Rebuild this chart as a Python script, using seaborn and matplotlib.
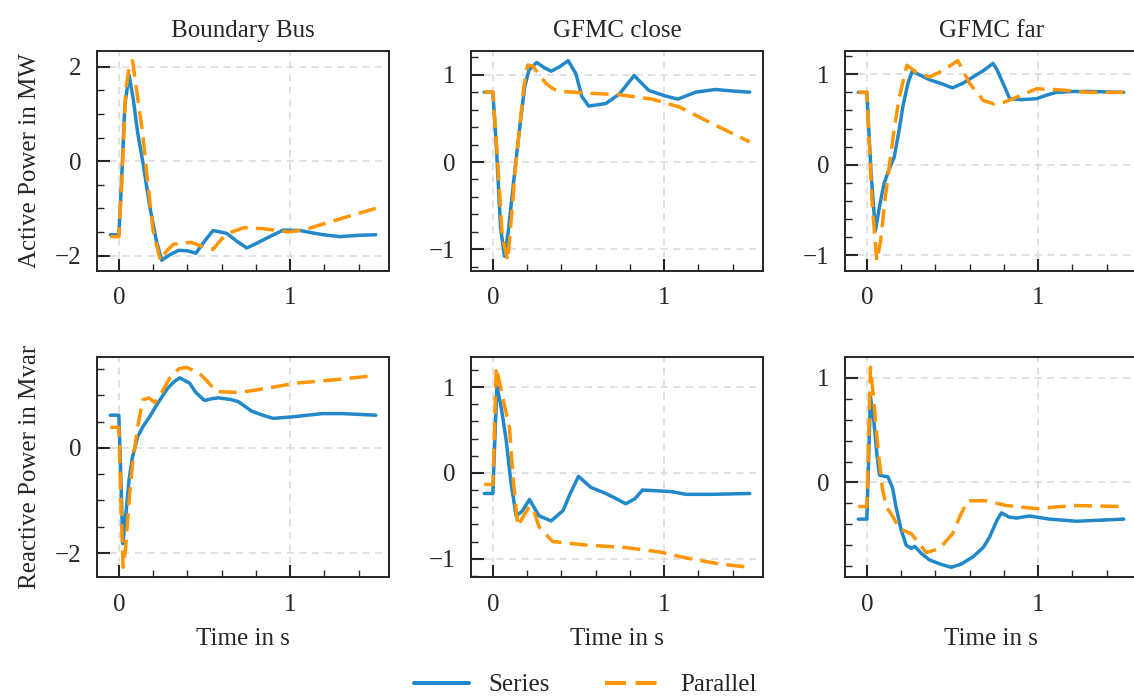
import matplotlib
matplotlib.use("Agg")
import matplotlib.pyplot as plt
from matplotlib.ticker import MultipleLocator, AutoMinorLocator
import pandas as pd
import seaborn as sns

# values (time in s)
columns = ["Boundary Bus", "GFMC close", "GFMC far"]
rows = ["Active Power in MW", "Reactive Power in Mvar"]
cases = ["Series", "Parallel"]

# --- active power ---
bb_p_ser_t = [-0.05, 0.0, 0.015, 0.035, 0.06, 0.085, 0.11, 0.142, 0.18, 0.22, 0.25, 0.3, 0.35, 0.4, 0.45,
              0.5, 0.55, 0.63, 0.69, 0.747, 0.8, 0.864, 0.96, 1.058, 1.13, 1.195, 1.29, 1.41, 1.5]
bb_p_ser_v = [-1.56, -1.56, -0.5, 1.2, 1.82, 1.3, 0.6, -0.06, -0.95, -1.7, -2.1, -1.98, -1.89, -1.9, -1.95,
              -1.7, -1.47, -1.53, -1.7, -1.84, -1.75, -1.63, -1.46, -1.47, -1.52, -1.56, -1.6, -1.57, -1.56]
bb_p_par_t = [-0.05, 0.0, 0.015, 0.04, 0.065, 0.08, 0.1, 0.137, 0.17, 0.2, 0.243, 0.28, 0.32, 0.42, 0.49,
              0.55, 0.6, 0.66, 0.73, 0.84, 0.99, 1.08, 1.195, 1.35, 1.5]
bb_p_par_v = [-1.6, -1.6, -0.6, 1.5, 2.1, 2.13, 1.6, 0.65, -0.5, -1.47, -2.11, -1.9, -1.76, -1.72, -1.81,
              -1.87, -1.65, -1.5, -1.41, -1.43, -1.5, -1.46, -1.33, -1.16, -1.0]

gc_p_ser_t = [-0.05, 0.0, 0.02, 0.045, 0.068, 0.09, 0.12, 0.155, 0.185, 0.21, 0.256, 0.3, 0.34, 0.39, 0.44,
              0.485, 0.52, 0.56, 0.66, 0.74, 0.825, 0.87, 0.91, 1.0, 1.08, 1.185, 1.3, 1.42, 1.5]
gc_p_ser_v = [0.8, 0.8, 0.2, -0.75, -1.08, -0.8, -0.25, 0.36, 0.85, 1.05, 1.14, 1.08, 1.04, 1.09, 1.16,
              1.01, 0.75, 0.64, 0.67, 0.78, 0.99, 0.9, 0.82, 0.76, 0.72, 0.8, 0.83, 0.81, 0.8]
gc_p_par_t = [-0.05, 0.0, 0.025, 0.055, 0.087, 0.11, 0.13, 0.155, 0.18, 0.204, 0.233, 0.27, 0.31, 0.35,
              0.39, 0.54, 0.74, 0.93, 1.09, 1.26, 1.5]
gc_p_par_v = [0.8, 0.8, 0.1, -0.85, -1.13, -0.6, -0.1, 0.36, 0.85, 1.11, 1.10, 1.0, 0.9, 0.84,
              0.81, 0.79, 0.77, 0.72, 0.63, 0.46, 0.23]

gf_p_ser_t = [-0.05, 0.0, 0.025, 0.05, 0.075, 0.1, 0.13, 0.16, 0.19, 0.21, 0.24, 0.265, 0.3, 0.366, 0.43,
              0.5, 0.56, 0.62, 0.68, 0.737, 0.76, 0.8, 0.834, 0.9, 0.99, 1.05, 1.107, 1.2, 1.3, 1.5]
gf_p_ser_v = [0.8, 0.8, -0.1, -0.73, -0.45, -0.21, -0.05, 0.085, 0.4, 0.64, 0.9, 1.035, 1.0, 0.94, 0.9,
              0.85, 0.9, 0.97, 1.04, 1.12, 1.05, 0.88, 0.73, 0.72, 0.73, 0.77, 0.8, 0.81, 0.81, 0.8]
gf_p_par_t = [-0.05, 0.0, 0.03, 0.058, 0.08, 0.105, 0.133, 0.16, 0.19, 0.234, 0.29, 0.366, 0.444, 0.53,
              0.56, 0.6, 0.68, 0.746, 0.8, 0.854, 0.99, 1.107, 1.3, 1.5]
gf_p_par_v = [0.8, 0.8, -0.4, -1.06, -0.85, -0.4, 0.01, 0.4, 0.75, 1.10, 1.02, 0.97, 1.04, 1.15,
              1.05, 0.9, 0.71, 0.67, 0.69, 0.73, 0.84, 0.83, 0.80, 0.8]

# --- reactive power ---
bb_q_ser_t = [-0.05, 0.0, 0.012, 0.023, 0.04, 0.06, 0.08, 0.11, 0.14, 0.18, 0.22, 0.28, 0.32, 0.355, 0.413,
              0.45, 0.5, 0.54, 0.58, 0.65, 0.696, 0.74, 0.774, 0.84, 0.9, 1.02, 1.1, 1.19, 1.31, 1.5]
bb_q_ser_v = [0.62, 0.62, -0.6, -1.82, -1.3, -0.6, -0.17, 0.21, 0.40, 0.59, 0.81, 1.11, 1.25, 1.33, 1.23,
              1.05, 0.9, 0.93, 0.95, 0.92, 0.88, 0.78, 0.70, 0.62, 0.56, 0.59, 0.62, 0.65, 0.65, 0.62]
bb_q_par_t = [-0.05, 0.0, 0.012, 0.025, 0.04, 0.06, 0.08, 0.11, 0.14, 0.175, 0.21, 0.25, 0.296, 0.35,
              0.394, 0.47, 0.52, 0.57, 0.706, 0.86, 1.037, 1.25, 1.485]
bb_q_par_v = [0.39, 0.39, -1.0, -2.27, -1.9, -1.0, -0.3, 0.4, 0.91, 0.95, 0.86, 1.05, 1.32, 1.5,
              1.53, 1.42, 1.25, 1.07, 1.05, 1.13, 1.23, 1.29, 1.37]

gc_q_ser_t = [-0.05, 0.0, 0.01, 0.024, 0.05, 0.078, 0.105, 0.136, 0.17, 0.214, 0.24, 0.27, 0.34, 0.41,
              0.45, 0.5, 0.573, 0.66, 0.72, 0.777, 0.83, 0.874, 0.97, 1.05, 1.126, 1.28, 1.5]
gc_q_ser_v = [-0.24, -0.24, 0.3, 1.01, 0.75, 0.38, -0.1, -0.5, -0.45, -0.31, -0.4, -0.5, -0.56, -0.44,
              -0.25, -0.04, -0.17, -0.24, -0.3, -0.36, -0.3, -0.2, -0.21, -0.22, -0.25, -0.25, -0.24]
gc_q_par_t = [-0.05, 0.0, 0.01, 0.02, 0.05, 0.097, 0.12, 0.146, 0.18, 0.214, 0.24, 0.27, 0.35, 0.54,
              0.777, 0.97, 1.126, 1.32, 1.5]
gc_q_par_v = [-0.135, -0.135, 0.5, 1.23, 0.95, 0.53, -0.1, -0.62, -0.5, -0.39, -0.45, -0.63, -0.80, -0.84,
              -0.87, -0.92, -0.99, -1.06, -1.10]

gf_q_ser_t = [-0.05, 0.0, 0.01, 0.021, 0.04, 0.06, 0.074, 0.1, 0.123, 0.15, 0.17, 0.2, 0.23, 0.26, 0.28,
              0.32, 0.366, 0.43, 0.493, 0.55, 0.62, 0.68, 0.717, 0.76, 0.786, 0.83, 0.873, 0.95, 1.068,
              1.224, 1.5]
gf_q_ser_v = [-0.35, -0.35, 0.2, 0.82, 0.6, 0.25, 0.07, 0.06, 0.054, -0.05, -0.23, -0.45, -0.60, -0.63, -0.61,
              -0.68, -0.74, -0.78, -0.81, -0.78, -0.71, -0.62, -0.52, -0.36, -0.29, -0.33, -0.34, -0.32, -0.35,
              -0.37, -0.35]
gf_q_par_t = [-0.05, 0.0, 0.01, 0.021, 0.04, 0.064, 0.09, 0.113, 0.15, 0.19, 0.26, 0.3, 0.347, 0.425,
              0.5, 0.55, 0.59, 0.698, 0.815, 0.99, 1.205, 1.5]
gf_q_par_v = [-0.23, -0.23, 0.4, 1.1, 0.8, 0.34, -0.05, -0.23, -0.32, -0.44, -0.49, -0.57, -0.67, -0.63,
              -0.49, -0.3, -0.175, -0.175, -0.22, -0.25, -0.22, -0.23]

panels = [
    [(bb_p_ser_t, bb_p_ser_v, bb_p_par_t, bb_p_par_v),
     (gc_p_ser_t, gc_p_ser_v, gc_p_par_t, gc_p_par_v),
     (gf_p_ser_t, gf_p_ser_v, gf_p_par_t, gf_p_par_v)],
    [(bb_q_ser_t, bb_q_ser_v, bb_q_par_t, bb_q_par_v),
     (gc_q_ser_t, gc_q_ser_v, gc_q_par_t, gc_q_par_v),
     (gf_q_ser_t, gf_q_ser_v, gf_q_par_t, gf_q_par_v)],
]
y_major = [[2, 1, 1], [2, 1, 1]]

sns.set_style("ticks")
plt.rcParams.update({
    "font.family": ["Liberation Serif", "DejaVu Serif"],
    "font.size": 18,
    "lines.linewidth": 2.5,
    "axes.linewidth": 1.4,
    "xtick.direction": "in",
    "ytick.direction": "in",
    "xtick.major.size": 9,
    "ytick.major.size": 9,
    "xtick.minor.size": 4.8,
    "ytick.minor.size": 4.8,
    "xtick.major.width": 1.5,
    "ytick.major.width": 1.5,
    "xtick.minor.width": 1.0,
    "ytick.minor.width": 1.0,
    "xtick.major.pad": 12,
    "ytick.major.pad": 11,
})

palette = {"Series": "#2188c9", "Parallel": "#ff9500"}
dashes = {"Series": "", "Parallel": (5.2, 2.4)}

W, H = 1134, 700
fig = plt.figure(figsize=(W / 100, H / 100), dpi=100)

lefts = [97, 471, 845]
tops = [50.7, 357.3]
aw, ah = 292, 220

legend_handles = None
for r in range(2):
    for c in range(3):
        ax = fig.add_axes([lefts[c] / W, 1 - (tops[r] + ah) / H, aw / W, ah / H])
        st, sv, pt, pv = panels[r][c]
        df = pd.concat([
            pd.DataFrame({"t": st, "value": sv, "case": "Series"}),
            pd.DataFrame({"t": pt, "value": pv, "case": "Parallel"}),
        ])
        sns.lineplot(data=df, x="t", y="value", hue="case", style="case", hue_order=cases,
                     style_order=cases, palette=palette, dashes=dashes, estimator=None,
                     lw=2.5, ax=ax, legend=(r == 0 and c == 0), zorder=3)
        for ln in ax.get_lines():
            ln.set_linewidth(2.5)
        if r == 0 and c == 0:
            leg = ax.get_legend()
            legend_handles = (leg.legend_handles, [t.get_text() for t in leg.texts])
            leg.remove()

        ax.grid(True, which="major", linestyle=(0, (4, 3)), color="#dedede", linewidth=1.3, zorder=0)
        ax.set_axisbelow(True)
        ax.xaxis.set_major_locator(MultipleLocator(1))
        ax.xaxis.set_minor_locator(AutoMinorLocator(5))
        ax.yaxis.set_major_locator(MultipleLocator(y_major[r][c]))
        ax.yaxis.set_minor_locator(AutoMinorLocator())
        ax.tick_params(which="both", top=False, right=False)
        ax.set_xlim(-0.1275, 1.5775)

        ax.set_ylabel(rows[r] if c == 0 else "", labelpad=10)
        ax.set_xlabel("Time in s" if r == 1 else "", labelpad=9)
        if r == 0:
            ax.set_title(columns[c], pad=10, fontsize=18)

handles, labels = legend_handles
for h in handles:
    h.set_linewidth(2.9)
fig.legend(handles, labels, loc="center", bbox_to_anchor=(585 / W, 1 - 685 / H), ncol=2,
           frameon=False, handlelength=2.2, handletextpad=0.8, columnspacing=2.2)

fig.savefig("out.png", dpi=100)
